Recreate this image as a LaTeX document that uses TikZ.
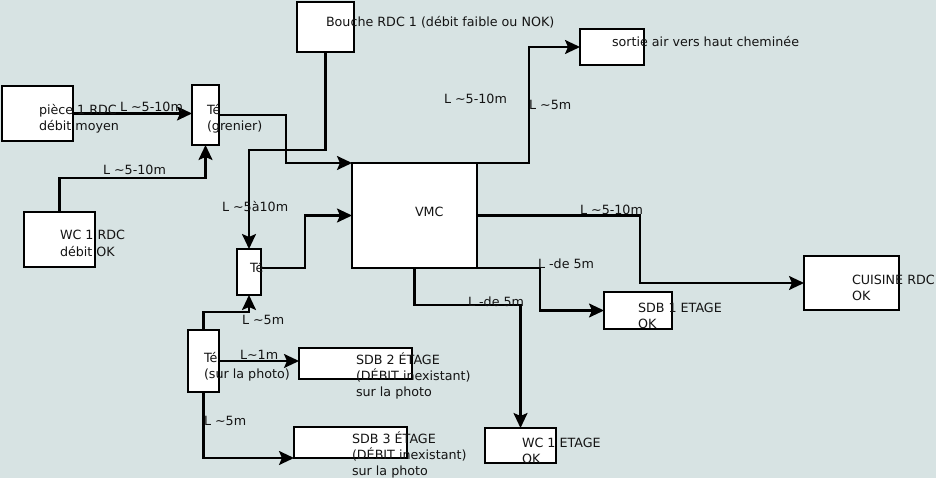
\documentclass[tikz,border=0pt]{standalone}
\usepackage{fontspec}
\setmainfont{DejaVu Sans}
\usetikzlibrary{arrows.meta}
\definecolor{bgcol}{RGB}{215,227,227}
\definecolor{txtcol}{RGB}{20,20,20}
\begin{document}
\begin{tikzpicture}[x=1pt,y=-1pt,
  box/.style={draw=black, fill=white, line width=2.2pt, inner sep=0pt, outer sep=0pt},
  txt/.style={anchor=base west, inner sep=0pt, outer sep=0pt, text=txtcol, font=\fontsize{12.7}{16}\selectfont},
  arr/.style={draw=black, line width=2.2pt, -{Stealth[length=15pt,width=14pt,inset=3pt]}}]
\fill[bgcol] (0,0) rectangle (936,478);
\useasboundingbox (0,0) rectangle (936,478);
% boxes
\node[box, minimum width=57pt, minimum height=50pt] (bouche) at (325.5,27) {};
\node[box, minimum width=64pt, minimum height=36pt] (sortie) at (612,47) {};
\node[box, minimum width=71pt, minimum height=55pt] (piece) at (37.5,113.5) {};
\node[box, minimum width=27pt, minimum height=60pt] (te1) at (205.5,115) {};
\node[box, minimum width=71pt, minimum height=55pt] (wc1) at (59.5,239.5) {};
\node[box, minimum width=125pt, minimum height=105pt] (vmc) at (414.5,215.5) {};
\node[box, minimum width=24pt, minimum height=46pt] (te2) at (249,272) {};
\node[box, minimum width=95pt, minimum height=54pt] (cuisine) at (851.5,283) {};
\node[box, minimum width=68pt, minimum height=37pt] (sdb1) at (638,310.5) {};
\node[box, minimum width=31pt, minimum height=62pt] (te3) at (203.5,361) {};
\node[box, minimum width=113pt, minimum height=31pt] (sdb2) at (355.5,363.5) {};
\node[box, minimum width=113pt, minimum height=31pt] (sdb3) at (350.5,442.5) {};
\node[box, minimum width=71pt, minimum height=35pt] (wc1e) at (520.5,445.5) {};
% connectors
\draw[arr] (piece.east) -- (piece.east -| te1.west);
\draw[arr] (wc1.north) -- (wc1.north |- 0,178) -| (te1.south);
\draw[arr] (te1.east) -- ++(67,0) |- (vmc.north west);
\draw[arr] (bouche.south) -- (bouche.south |- 0,150) -| (te2.north);
\draw[arr] ([yshift=4pt]te2.east) -- ++(44,0) |- (vmc.west);
\draw[arr] (vmc.north east) -- ++(52,0) |- (sortie.west);
\draw[arr] (vmc.east) -- (640,215.5) |- (cuisine.west);
\draw[arr] (vmc.south east) -- ++(63,0) |- (sdb1.west);
\draw[arr] (vmc.south) -- ++(0,37) -| (wc1e.north);
\draw[arr] (te3.north) -- ++(0,-18) -| (te2.south);
\draw[arr] (te3.east) -- (te3.east -| sdb2.west);
\draw[arr] (te3.south) |- (sdb3.south west);
% texts
\node[txt] (tbouche) at (326,27) {Bouche RDC 1 (débit faible ou NOK)};
\node[txt] (tsortie) at (612,47) {sortie air vers haut cheminée};
\node[txt] (tpiecea) at (39,115) {pièce 1 RDC};
\node[txt] (tpieceb) at (39,131) {débit moyen};
\node[txt] (tte1a) at (207,115) {Té};
\node[txt] (tte1b) at (207,131) {(grenier)};
\node[txt] (twc1a) at (60,240) {WC 1 RDC};
\node[txt] (twc1b) at (60,256) {débit OK};
\node[txt] (tvmc) at (415,217) {VMC};
\node[txt] (tte2) at (250,272) {Té};
\node[txt] (tcuisa) at (852,284) {CUISINE RDC};
\node[txt] (tcuisb) at (852,300) {OK};
\node[txt] (tsdb1a) at (638,312) {SDB 1 ETAGE};
\node[txt] (tsdb1b) at (638,328) {OK};
\node[txt] (tte3a) at (204,362) {Té};
\node[txt] (tte3b) at (204,378) {(sur la photo)};
\node[txt] (tsdb2a) at (356,364) {SDB 2 ÉTAGE};
\node[txt] (tsdb2b) at (356,380) {(DÉBIT inexistant)};
\node[txt] (tsdb2c) at (356,396) {sur la photo};
\node[txt] (tsdb3a) at (352,443) {SDB 3 ÉTAGE};
\node[txt] (tsdb3b) at (352,459) {(DÉBIT inexistant)};
\node[txt] (tsdb3c) at (352,475) {sur la photo};
\node[txt] (twc1ea) at (522,447) {WC 1 ETAGE};
\node[txt] (twc1eb) at (522,463) {OK};
% length labels
\node[txt] (l1) at (120,112) {L \textasciitilde5-10m};
\node[txt] (l2) at (103,175) {L \textasciitilde5-10m};
\node[txt] (l3) at (222,212) {L \textasciitilde5à10m};
\node[txt] (l4) at (444,104) {L \textasciitilde5-10m};
\node[txt] (l5) at (529,110) {L \textasciitilde5m};
\node[txt] (l6) at (580,215) {L \textasciitilde5-10m};
\node[txt] (l7) at (538,268) {L -de 5m};
\node[txt] (l8) at (468,306) {L -de 5m};
\node[txt] (l9) at (242,324) {L \textasciitilde5m};
\node[txt] (l10) at (240,359) {L\textasciitilde1m};
\node[txt] (l11) at (204,425) {L \textasciitilde5m};
\end{tikzpicture}
\end{document}
